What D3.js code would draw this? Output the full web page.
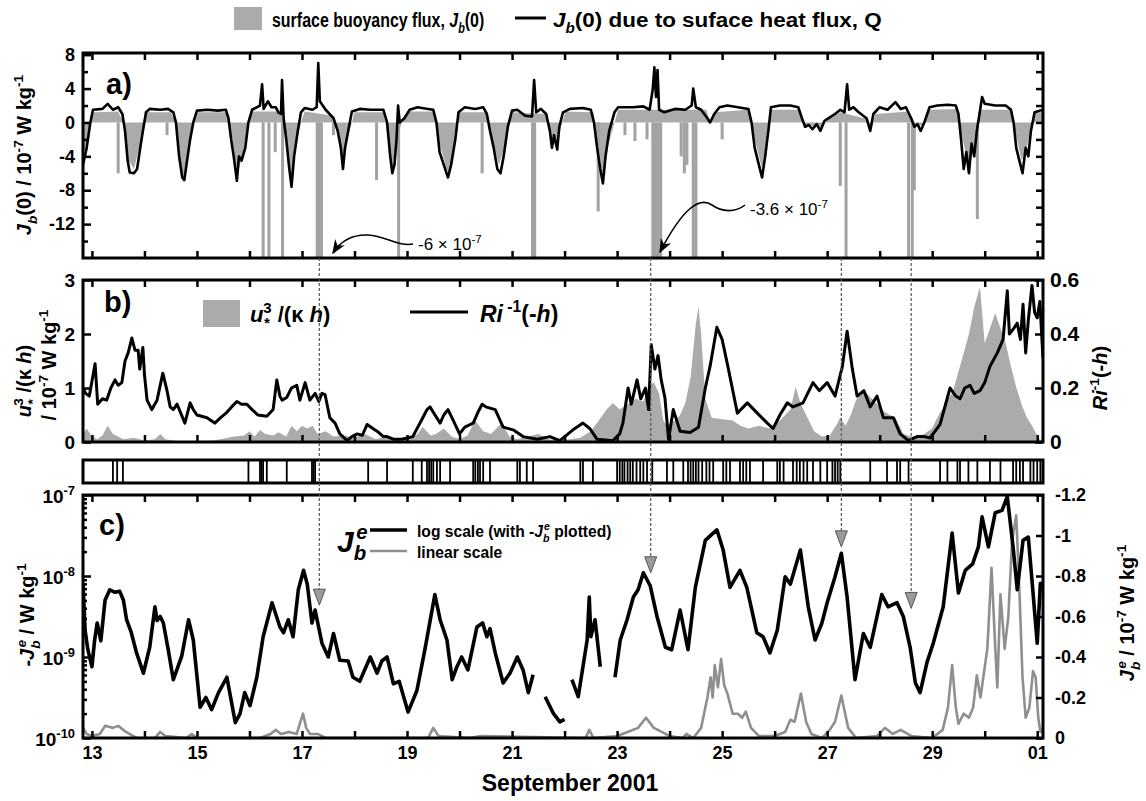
<html>
<head>
<meta charset="utf-8">
<title>Surface buoyancy flux, shear and entrainment flux</title>
<style>
  body { margin: 0; background: #fff; }
</style>
</head>
<body>
<script src="https://cdnjs.cloudflare.com/ajax/libs/d3/7.8.5/d3.min.js"></script>
<script>
// ---- data (day of September 2001; 31 = 01 Oct) ----
// a) Jb(0) due to surface heat flux Q, 1e-7 W/kg
var heatFluxJb = [[12.83,-5],[12.9,-3],[12.97,0],[13.02,1.5],[13.2,1.6],[13.3,2.2],[13.4,1.5],[13.5,1.8],[13.58,1.0],[13.63,-1],[13.68,-4.5],[13.72,-5.9],[13.8,-6],[13.86,-5.5],[13.92,-3],[13.97,-1],[14.03,1.2],[14.1,1.6],[14.3,1.5],[14.45,1.6],[14.55,1.2],[14.6,0],[14.66,-4],[14.72,-6.5],[14.76,-6.8],[14.8,-5],[14.87,-2],[14.93,0],[15.0,1.4],[15.2,1.5],[15.4,1.4],[15.55,1.5],[15.6,0.5],[15.65,-2],[15.7,-4],[15.76,-6.9],[15.8,-4],[15.85,-4.5],[15.92,-3],[15.98,0],[16.05,1.5],[16.2,2.0],[16.24,4.5],[16.27,1.6],[16.35,2.5],[16.42,1.8],[16.5,1.8],[16.55,1.2],[16.6,1.0],[16.62,5],[16.65,0.5],[16.7,-2],[16.75,-5],[16.8,-7.6],[16.85,-4],[16.92,-1],[16.98,1.2],[17.05,1.7],[17.2,1.5],[17.28,1.8],[17.31,7],[17.34,2.5],[17.45,1.5],[17.6,0.5],[17.68,-1],[17.74,-3],[17.78,-5.5],[17.82,-3],[17.88,-1],[17.95,1.3],[18.1,1.6],[18.3,1.5],[18.55,1.5],[18.62,0],[18.68,-4],[18.72,-6],[18.76,-5],[18.8,-2],[18.83,2],[18.86,0],[18.95,0.5],[19.05,1.5],[19.2,1.8],[19.4,1.6],[19.5,1.5],[19.56,0],[19.62,-3.5],[19.7,-5],[19.78,-6.5],[19.84,-5],[19.92,-2],[19.98,1.2],[20.1,1.8],[20.3,1.6],[20.45,1.8],[20.52,1.0],[20.58,-1],[20.65,-3],[20.72,-5.5],[20.78,-6],[20.84,-4],[20.92,-0.5],[21.0,1.4],[21.1,1.5],[21.25,0.8],[21.38,0.7],[21.42,5],[21.46,1.2],[21.55,1.6],[21.65,1.0],[21.72,-1],[21.76,-3],[21.8,-1.5],[21.86,-3.2],[21.9,-0.5],[21.97,1.2],[22.1,1.6],[22.35,1.7],[22.5,1.5],[22.56,0],[22.62,-3],[22.68,-5.5],[22.73,-7.2],[22.78,-4],[22.85,-1],[22.95,1.2],[23.02,1.8],[23.3,1.8],[23.5,1.9],[23.62,1.5],[23.68,4],[23.71,6.5],[23.74,3],[23.77,6.2],[23.8,1.5],[23.9,1.2],[24.1,1.6],[24.3,1.5],[24.42,2],[24.45,4],[24.5,1.8],[24.6,1.5],[24.72,0.5],[24.77,0],[24.85,1.0],[24.95,1.8],[25.1,2.0],[25.3,1.8],[25.5,1.6],[25.56,0],[25.62,-3],[25.7,-5],[25.76,-6.5],[25.82,-4],[25.88,-1],[25.93,1.8],[26.1,2.0],[26.3,2.0],[26.45,1.8],[26.52,0.5],[26.58,-0.5],[26.65,-0.3],[26.72,-0.8],[26.8,-0.2],[26.87,-1.0],[26.95,0.2],[27.05,0.6],[27.15,1.0],[27.25,1.5],[27.33,1.2],[27.38,4.5],[27.42,1.5],[27.5,1.8],[27.6,1.2],[27.75,0.5],[27.82,-1],[27.88,1],[28.0,1.8],[28.15,1.5],[28.3,2.4],[28.4,1.6],[28.5,1.8],[28.6,0.5],[28.66,-0.5],[28.72,-0.2],[28.78,-1],[28.85,0],[28.95,1.8],[29.1,2.0],[29.3,2.1],[29.45,2.0],[29.5,1],[29.55,-2],[29.6,-5.5],[29.65,-3.5],[29.7,-6],[29.75,-2.5],[29.8,-4],[29.85,-1],[29.9,1],[29.95,3],[30.0,2.2],[30.2,2.0],[30.4,2.0],[30.5,1.5],[30.55,0],[30.6,-3],[30.66,-4.5],[30.72,-6],[30.78,-3],[30.83,-4],[30.88,-1],[30.95,1.2],[31.11,1.5]];

// a) surface buoyancy flux Jb(0), 1e-7 W/kg
var surfaceJb = [[12.83,-4],[12.95,-1],[13.02,1.2],[13.5,1.3],[13.6,0],[13.7,-4.5],[13.8,-5.5],[13.9,-3],[14.0,0],[14.05,1.2],[14.5,1.2],[14.6,0],[14.7,-5.5],[14.76,-6.5],[14.85,-3],[14.95,0],[15.02,1.2],[15.55,1.2],[15.62,0],[15.72,-4],[15.78,-6],[15.88,-3.5],[15.98,0],[16.05,1.3],[16.6,1.3],[16.68,-1],[16.76,-5],[16.82,-6.5],[16.9,-2],[16.98,0],[17.05,1.3],[17.6,0.8],[17.7,-1.5],[17.78,-5],[17.85,-2],[17.95,0],[18.0,1.2],[18.55,1.2],[18.65,-2],[18.72,-5.5],[18.8,-2],[18.9,0],[19.05,1.3],[19.52,1.3],[19.6,-2],[19.75,-5.5],[19.82,-6],[19.92,-2],[20.0,1.2],[20.5,1.2],[20.6,-1.5],[20.75,-5],[20.85,-3],[20.95,0],[21.02,1.2],[21.65,1.0],[21.75,-2],[21.86,-2.5],[21.95,0],[22.02,1.3],[22.55,1.2],[22.62,-2],[22.72,-6],[22.82,-3],[22.95,0],[23.02,1.5],[24.7,1.5],[24.77,0],[24.85,1.2],[25.5,1.5],[25.58,-1],[25.7,-4],[25.76,-5.5],[25.85,-2],[25.92,1.5],[26.45,1.5],[26.55,-0.3],[26.9,-0.5],[27.0,0.3],[27.25,1.2],[27.75,0.4],[27.85,-0.5],[27.92,1.0],[28.55,1.3],[28.65,-0.5],[28.85,-0.3],[28.95,1.5],[29.48,1.6],[29.55,-1],[29.65,-4],[29.72,-5],[29.82,-2],[29.9,1.5],[30.5,1.5],[30.58,-1],[30.7,-4.5],[30.8,-3],[30.9,0],[30.97,1.2],[31.11,1.2]];

// a) rain events in Jb(0) (clipped at the panel floor)
var rainSpikes = [[13.5,-6],[14.43,-1.5],[16.26,-16],[16.37,-16],[16.49,-3.5],[16.63,-16],[17.29,-16],[17.33,-16],[17.37,-16],[17.6,-1.5],[18.42,-6.8],[18.84,-16],[20.43,-6],[21.39,-16],[21.43,-16],[22.64,-10.5],[23.15,-1.5],[23.34,-2.2],[23.57,-2],[23.68,-16],[23.73,-16],[23.78,-16],[23.83,-16],[24.22,-4],[24.28,-6],[24.33,-5],[24.45,-16],[24.5,-16],[25.0,-2],[27.25,-7.5],[27.36,-16],[28.55,-16],[28.62,-16],[28.66,-8],[29.86,-11.4]];

// b) u*^3/(kappa h), 1e-7 W/kg
var shearProd = [[12.83,0.15],[12.9,0.25],[13.0,0.1],[13.1,0.05],[13.2,0.12],[13.3,0.3],[13.4,0.15],[13.5,0.1],[13.6,0.05],[13.8,0.08],[14.0,0.03],[14.2,0.05],[14.3,0.15],[14.4,0.05],[14.6,0.02],[15.0,0.02],[15.3,0.03],[15.5,0.06],[15.7,0.1],[15.9,0.12],[16.0,0.2],[16.1,0.1],[16.2,0.22],[16.3,0.15],[16.45,0.12],[16.55,0.18],[16.7,0.1],[16.8,0.3],[16.9,0.2],[17.0,0.3],[17.1,0.25],[17.2,0.3],[17.3,0.15],[17.45,0.2],[17.6,0.1],[17.8,0.12],[18.0,0.08],[18.2,0.15],[18.4,0.05],[18.6,0.1],[18.8,0.05],[19.0,0.05],[19.2,0.15],[19.3,0.28],[19.45,0.12],[19.55,0.15],[19.7,0.25],[19.85,0.1],[20.0,0.05],[20.15,0.12],[20.3,0.4],[20.45,0.2],[20.6,0.15],[20.8,0.35],[20.95,0.1],[21.1,0.05],[21.3,0.1],[21.5,0.15],[21.7,0.05],[21.9,0.03],[22.1,0.05],[22.3,0.08],[22.5,0.2],[22.65,0.4],[22.8,0.6],[22.92,0.72],[23.05,0.6],[23.2,0.7],[23.35,0.8],[23.5,0.75],[23.6,1.05],[23.7,1.1],[23.8,0.9],[23.88,0.4],[23.95,0.3],[24.1,0.4],[24.2,0.5],[24.3,0.72],[24.4,1.2],[24.5,2.2],[24.55,2.5],[24.6,2.0],[24.68,0.8],[24.8,0.45],[25.0,0.42],[25.2,0.4],[25.35,0.3],[25.5,0.25],[25.7,0.3],[25.9,0.25],[26.1,0.4],[26.3,0.6],[26.4,1.02],[26.5,0.7],[26.6,0.5],[26.75,0.2],[26.9,0.1],[27.05,0.12],[27.2,0.35],[27.25,0.46],[27.35,0.3],[27.45,0.5],[27.55,0.78],[27.7,0.96],[27.85,0.8],[27.95,0.7],[28.1,0.55],[28.3,0.45],[28.45,0.15],[28.6,0.1],[28.8,0.12],[29.0,0.25],[29.1,0.46],[29.25,0.7],[29.4,0.96],[29.5,1.3],[29.6,1.65],[29.7,2.0],[29.8,2.5],[29.91,2.87],[30.0,1.83],[30.1,2.1],[30.2,2.39],[30.3,2.1],[30.4,1.83],[30.5,1.4],[30.6,1.02],[30.7,0.7],[30.8,0.46],[30.9,0.3],[30.98,0.15],[31.05,0.05],[31.11,0.02]];

// b) Ri^-1 at -h (right axis)
var invRi = [[12.83,0.20],[12.88,0.18],[12.95,0.17],[13.06,0.29],[13.11,0.14],[13.2,0.16],[13.28,0.155],[13.36,0.2],[13.44,0.23],[13.5,0.21],[13.57,0.22],[13.63,0.3],[13.69,0.33],[13.76,0.385],[13.82,0.34],[13.88,0.34],[13.91,0.27],[13.97,0.35],[14.0,0.25],[14.05,0.155],[14.14,0.12],[14.24,0.155],[14.35,0.255],[14.43,0.19],[14.49,0.13],[14.55,0.12],[14.62,0.14],[14.77,0.07],[14.87,0.145],[14.93,0.12],[15.0,0.10],[15.19,0.09],[15.34,0.07],[15.45,0.09],[15.57,0.11],[15.66,0.13],[15.76,0.15],[15.85,0.14],[15.95,0.14],[16.05,0.12],[16.16,0.10],[16.33,0.095],[16.45,0.12],[16.52,0.23],[16.58,0.17],[16.62,0.155],[16.71,0.165],[16.8,0.2],[16.9,0.21],[16.96,0.155],[17.06,0.22],[17.15,0.155],[17.25,0.18],[17.32,0.15],[17.38,0.18],[17.44,0.175],[17.53,0.09],[17.63,0.07],[17.72,0.03],[17.86,0.005],[17.95,0.02],[18.05,0.03],[18.15,0.025],[18.24,0.065],[18.35,0.05],[18.43,0.04],[18.55,0.02],[18.62,0.02],[18.75,0.01],[18.9,0.01],[19.11,0.02],[19.3,0.09],[19.38,0.12],[19.44,0.13],[19.5,0.11],[19.63,0.07],[19.7,0.1],[19.78,0.12],[19.88,0.08],[20.0,0.03],[20.1,0.055],[20.26,0.07],[20.35,0.11],[20.43,0.14],[20.5,0.13],[20.68,0.12],[20.83,0.055],[21.02,0.045],[21.21,0.02],[21.48,0.01],[21.72,0.02],[21.91,0.005],[22.16,0.045],[22.35,0.07],[22.48,0.05],[22.62,0.01],[22.92,0.005],[23.05,0.03],[23.11,0.07],[23.21,0.20],[23.27,0.14],[23.38,0.23],[23.45,0.16],[23.54,0.20],[23.6,0.12],[23.65,0.36],[23.72,0.27],[23.78,0.32],[23.84,0.23],[23.91,0.165],[23.98,0.01],[24.07,0.12],[24.2,0.04],[24.39,0.035],[24.55,0.055],[24.68,0.20],[24.77,0.28],[24.9,0.425],[25.0,0.38],[25.12,0.27],[25.29,0.107],[25.48,0.145],[25.67,0.107],[25.86,0.07],[25.97,0.05],[26.1,0.1],[26.24,0.145],[26.35,0.13],[26.54,0.145],[26.73,0.22],[26.85,0.19],[27.0,0.22],[27.15,0.17],[27.29,0.28],[27.38,0.41],[27.48,0.27],[27.57,0.17],[27.7,0.19],[27.82,0.13],[27.95,0.17],[28.07,0.09],[28.26,0.09],[28.39,0.03],[28.55,0.005],[28.71,0.02],[28.85,0.02],[28.96,0.015],[29.15,0.065],[29.34,0.20],[29.45,0.17],[29.53,0.16],[29.62,0.2],[29.72,0.21],[29.8,0.18],[29.91,0.19],[30.0,0.22],[30.1,0.28],[30.24,0.33],[30.35,0.38],[30.43,0.56],[30.47,0.40],[30.55,0.42],[30.62,0.44],[30.68,0.38],[30.73,0.51],[30.78,0.33],[30.83,0.45],[30.9,0.58],[30.95,0.48],[31.0,0.46],[31.05,0.52],[31.11,0.31]];

// event strip between b) and c)
var stripeDays = [13.4,13.48,13.59,15.98,16.2,16.23,16.26,16.33,16.71,17.19,17.22,17.25,18.26,18.62,19.11,19.28,19.38,19.42,19.46,19.5,19.57,19.63,19.82,20.26,20.3,20.35,20.39,20.45,20.58,21.1,21.15,21.28,21.4,22.3,22.35,22.54,23.0,23.05,23.1,23.14,23.2,23.25,23.3,23.37,23.44,23.5,23.57,23.67,23.95,24.07,24.26,24.35,24.4,24.45,24.5,24.55,24.62,24.7,24.76,24.83,25.02,25.08,25.15,25.34,25.4,25.46,25.53,25.78,26.05,26.1,26.17,26.35,26.42,26.48,26.55,26.62,26.73,26.87,27.0,27.1,27.15,27.2,27.25,27.82,28.14,28.33,28.39,28.55,29.15,29.29,29.48,29.53,29.69,29.86,30.1,30.3,30.54,30.6,30.67,30.73,30.87,30.93,31.0,31.06];

// c) log10(-Jb^e) in W/kg (null = gap)
var logNegJbe = [[12.83,-8.09],[12.87,-8.67],[12.92,-8.9],[13.0,-9.12],[13.05,-8.8],[13.1,-8.58],[13.17,-8.8],[13.25,-8.3],[13.34,-8.17],[13.43,-8.2],[13.53,-8.19],[13.6,-8.3],[13.66,-8.54],[13.75,-8.7],[13.85,-8.95],[13.98,-9.2],[14.1,-8.88],[14.2,-8.38],[14.24,-8.55],[14.3,-8.5],[14.36,-8.58],[14.45,-8.9],[14.55,-9.28],[14.71,-8.99],[14.84,-8.54],[14.93,-8.79],[15.06,-9.62],[15.17,-9.5],[15.28,-9.65],[15.41,-9.44],[15.57,-9.25],[15.73,-9.81],[15.82,-9.7],[15.91,-9.44],[16.01,-9.6],[16.14,-9.25],[16.26,-8.75],[16.43,-8.33],[16.58,-8.63],[16.65,-8.7],[16.74,-8.54],[16.83,-8.75],[16.93,-8.17],[17.03,-7.93],[17.1,-8.1],[17.19,-8.58],[17.25,-8.42],[17.38,-8.83],[17.5,-9.0],[17.6,-8.71],[17.72,-9.04],[17.88,-9.05],[17.97,-9.25],[18.1,-9.3],[18.3,-9.0],[18.43,-9.2],[18.52,-9.05],[18.62,-9.0],[18.74,-9.33],[18.85,-9.3],[19.02,-9.68],[19.19,-9.41],[19.34,-8.91],[19.53,-8.23],[19.63,-8.54],[19.76,-8.79],[19.86,-9.28],[19.95,-9.12],[20.04,-9.0],[20.16,-9.16],[20.33,-8.63],[20.44,-8.58],[20.52,-8.75],[20.58,-8.65],[20.68,-8.95],[20.83,-9.32],[20.96,-9.2],[21.1,-9.0],[21.21,-9.16],[21.31,-9.44],[21.4,-9.22],[21.45,null],[21.63,-9.49],[21.79,-9.7],[21.91,-9.8],[22.0,-9.77],[22.05,null],[22.14,-9.28],[22.26,-9.49],[22.43,-8.79],[22.47,-8.26],[22.5,-8.75],[22.58,-8.54],[22.68,-9.12],[22.75,null],[22.96,-9.25],[23.06,-8.79],[23.19,-8.54],[23.31,-8.26],[23.4,-8.17],[23.5,-7.96],[23.63,-8.12],[23.76,-8.5],[23.92,-8.88],[24.04,-8.91],[24.2,-8.42],[24.35,-8.91],[24.49,-8.14],[24.68,-7.56],[24.83,-7.47],[24.9,-7.43],[25.02,-7.68],[25.15,-8.14],[25.34,-7.93],[25.47,-8.14],[25.66,-8.7],[25.78,-8.75],[25.91,-8.95],[26.05,-8.67],[26.2,-8.01],[26.3,-8.1],[26.49,-7.68],[26.64,-8.38],[26.77,-8.79],[26.9,-8.58],[27.0,-8.33],[27.15,-8.01],[27.27,-7.72],[27.38,-8.26],[27.53,-9.28],[27.69,-8.71],[27.82,-8.88],[28.04,-8.23],[28.16,-8.38],[28.33,-8.33],[28.45,-8.5],[28.58,-8.88],[28.68,-9.32],[28.77,-9.44],[28.9,-9.07],[29.02,-8.83],[29.21,-8.38],[29.38,-7.47],[29.5,-8.21],[29.63,-7.93],[29.77,-7.85],[29.88,-7.64],[29.95,-7.27],[30.07,-7.64],[30.2,-7.22],[30.33,-7.19],[30.43,-7.02],[30.54,-7.64],[30.62,-8.17],[30.73,-7.56],[30.83,-7.52],[30.9,-8.05],[31.0,-8.83],[31.06,-8.09],[31.11,-8.17]];

// c) Jb^e on linear scale, 1e-7 W/kg (right axis)
var linJbe = [[12.83,-0.05],[12.9,-0.02],[13.0,-0.01],[13.15,-0.02],[13.25,-0.06],[13.4,-0.05],[13.5,-0.06],[13.65,-0.03],[13.85,0],[14.2,0],[14.3,-0.03],[14.4,-0.01],[14.8,0],[14.9,-0.02],[15.0,0],[16.2,0],[16.4,-0.02],[16.5,-0.04],[16.6,-0.02],[16.75,-0.03],[16.9,-0.02],[16.97,-0.08],[17.02,-0.12],[17.08,-0.05],[17.15,-0.02],[17.3,-0.02],[17.45,0],[19.4,0],[19.5,-0.05],[19.6,-0.01],[20.2,0],[20.4,-0.01],[22.4,0],[22.47,-0.04],[22.55,0],[23.0,-0.01],[23.2,-0.03],[23.4,-0.05],[23.55,-0.1],[23.7,-0.05],[23.85,-0.03],[24.0,-0.01],[24.25,0],[24.32,-0.02],[24.45,0],[24.6,-0.05],[24.72,-0.2],[24.78,-0.3],[24.82,-0.2],[24.86,-0.36],[24.92,-0.25],[24.98,-0.39],[25.04,-0.26],[25.1,-0.22],[25.2,-0.12],[25.3,-0.12],[25.38,-0.1],[25.45,-0.13],[25.55,-0.05],[25.7,-0.01],[26.0,-0.01],[26.2,-0.03],[26.3,-0.09],[26.38,-0.08],[26.5,-0.22],[26.6,-0.08],[26.7,-0.02],[26.9,0],[27.05,-0.04],[27.15,-0.08],[27.27,-0.21],[27.4,-0.05],[27.55,0],[27.95,-0.01],[28.1,-0.05],[28.25,-0.02],[28.4,-0.04],[28.6,-0.01],[29.0,0],[29.2,-0.04],[29.3,-0.15],[29.38,-0.36],[29.45,-0.15],[29.5,-0.07],[29.6,-0.12],[29.7,-0.1],[29.78,-0.15],[29.85,-0.31],[29.92,-0.2],[30.0,-0.35],[30.05,-0.44],[30.13,-0.84],[30.2,-0.45],[30.24,-0.25],[30.3,-0.71],[30.38,-0.44],[30.45,-0.6],[30.52,-0.97],[30.6,-1.1],[30.66,-0.73],[30.72,-0.3],[30.78,-0.1],[30.85,-0.15],[30.92,-0.33],[30.97,-0.3],[31.02,-0.1],[31.06,-0.03],[31.11,-0.05]];

// dashed markers linking a) to c): day, log10(-Jb^e) at the triangle tip
var markerDays = [17.33, 23.64, 27.27, 28.6];
var markerTips = [-8.36, -7.96, -7.64, -8.4];

var days = d3.range(13, 32);
var dayLabels = [13, 15, 17, 19, 21, 23, 25, 27, 29, 31];
var ticksA = [-12, -8, -4, 0, 4, 8];
var ticksB = [0, 1, 2, 3];
var ticksBr = [0, 0.2, 0.4, 0.6];
var ticksCr = [0, -0.2, -0.4, -0.6, -0.8, -1, -1.2];
var decades = [-10, -9, -8, -7];

// ---- scales ----
var x = d3.scaleLinear().domain([12.83, 31.11]).range([83, 1043]);
var yA = d3.scaleLinear().domain([-16, 8.2]).range([258, 53]);
var yB = d3.scaleLinear().domain([0, 3]).range([442, 280]);
var yBr = d3.scaleLinear().domain([0, 0.6]).range([442, 280]);
var yC = d3.scaleLinear().domain([-10, -7]).range([738, 495]);   // log10 axis
var yCr = d3.scaleLinear().domain([0, -1.2]).range([738, 495]);
var stripTop = 460, stripBot = 483;

var gray = "#ababab";
var plain = function (d) { return String(d); };

var svg = d3.select("body").append("svg")
    .attr("width", 1146).attr("height", 801)
    .style("font-family", "'Liberation Sans', Arial, Helvetica, sans-serif")
    .style("font-weight", "bold");

var defs = svg.append("defs");
function clip(id, y0, y1) {
    defs.append("clipPath").attr("id", id).append("rect")
        .attr("x", x.range()[0]).attr("y", y0)
        .attr("width", x.range()[1] - x.range()[0]).attr("height", y1 - y0);
}
clip("clipA", 53, 258);
clip("clipB", 280, 442);
clip("clipC", 495, 738);
defs.append("marker").attr("id", "head").attr("viewBox", "0 0 10 10")
    .attr("refX", 9).attr("refY", 5).attr("markerWidth", 9).attr("markerHeight", 9)
    .attr("orient", "auto")
    .append("path").attr("d", "M0,1 L10,5 L0,9 L3,5 Z").attr("fill", "#000");

// rich text: parts = [text, "sub"|"sup"|"", italic, dx]
function rich(sel, parts) {
    var size = +sel.attr("font-size");
    var shift = 0;
    parts.forEach(function (p) {
        var mode = p[1] || "";
        var ts = sel.append("tspan").text(p[0]);
        var target = mode === "sup" ? -0.42 * size : mode === "sub" ? 0.28 * size : 0;
        if (target !== shift) { ts.attr("dy", target - shift); shift = target; }
        if (mode) ts.attr("font-size", size * 0.68);
        if (p[2]) ts.attr("font-style", "italic");
        if (p[3]) ts.attr("dx", p[3]);
    });
    return sel;
}

function styleAxis(g, size) {
    g.select(".domain").remove();
    g.selectAll(".tick line").attr("stroke", "#000").attr("stroke-width", 2.5);
    g.attr("font-family", null).attr("font-size", size || 18);
    g.selectAll("text").attr("fill", "#000");
    return g;
}

function frame(y0, y1) {
    svg.append("rect").attr("x", x.range()[0]).attr("y", y0)
        .attr("width", x.range()[1] - x.range()[0]).attr("height", y1 - y0)
        .attr("fill", "none").attr("stroke", "#000").attr("stroke-width", 3);
}

function dayAxes(y0, y1, labels) {
    styleAxis(svg.append("g").attr("transform", "translate(0," + y0 + ")")
        .call(d3.axisTop(x).tickValues(days).tickSize(-7).tickFormat("")));
    styleAxis(svg.append("g").attr("transform", "translate(0," + y1 + ")")
        .call(d3.axisBottom(x).tickValues(days).tickSize(-7).tickPadding(8)
            .tickFormat(function (d) {
                if (!labels || dayLabels.indexOf(d) < 0) return "";
                return d === 31 ? "01" : String(d);
            })));
}

var line = d3.line().x(function (d) { return x(d[0]); });

// ---- top legend ----
svg.append("rect").attr("x", 234).attr("y", 7).attr("width", 28).attr("height", 23).attr("fill", gray);
rich(svg.append("text").attr("font-size", 21).attr("transform", "translate(272,27) scale(0.76,1)"),
    [["surface buoyancy flux, "], ["J", "", 1], ["b", "sub", 1], ["(0)"]]);
svg.append("line").attr("x1", 515).attr("x2", 546).attr("y1", 18).attr("y2", 18)
    .attr("stroke", "#000").attr("stroke-width", 3);
rich(svg.append("text").attr("font-size", 21).attr("transform", "translate(553,27) scale(1.07,1)"),
    [["J", "", 1], ["b", "sub", 1], ["(0) due to suface heat flux, Q"]]);

// ---- panel a ----
var gA = svg.append("g").attr("clip-path", "url(#clipA)");
gA.append("path").datum(surfaceJb)
    .attr("d", d3.area().x(function (d) { return x(d[0]); }).y0(yA(0)).y1(function (d) { return yA(d[1]); }))
    .attr("fill", gray);
gA.selectAll("rect.spike").data(rainSpikes).join("rect").attr("class", "spike")
    .attr("x", function (d) { return x(d[0]) - 1.5; }).attr("width", 3)
    .attr("y", yA(0)).attr("height", function (d) { return yA(d[1]) - yA(0); })
    .attr("fill", "#a2a2a2");
gA.append("path").datum(heatFluxJb)
    .attr("d", line.y(function (d) { return yA(d[1]); }))
    .attr("fill", "none").attr("stroke", "#000").attr("stroke-width", 2.6).attr("stroke-linejoin", "round");

frame(53, 258);
dayAxes(53, 258, false);
styleAxis(svg.append("g").attr("transform", "translate(83,0)")
    .call(d3.axisLeft(yA).tickValues(ticksA).tickSize(-8).tickPadding(8).tickFormat(plain)));
styleAxis(svg.append("g").attr("transform", "translate(83,0)")
    .call(d3.axisLeft(yA).tickValues([-14, -10, -6, -2, 2, 6]).tickSize(-5).tickFormat("")));
styleAxis(svg.append("g").attr("transform", "translate(1043,0)")
    .call(d3.axisRight(yA).tickValues(d3.range(-14, 8, 2)).tickSize(-7).tickFormat("")));

svg.append("text").attr("x", 106).attr("y", 94).attr("font-size", 29).text("a)");
rich(svg.append("text").attr("font-size", 20).attr("text-anchor", "middle")
    .attr("transform", "translate(31,155) rotate(-90)"),
    [["J", "", 1], ["b", "sub", 1], ["(0)  / 10"], ["-7", "sup"], [" W kg"], ["-1", "sup"]]);

// annotations
svg.append("path").attr("d", "M413,244 C398,247 385,235 366,235 C350,235 340,242 333,253")
    .attr("fill", "none").attr("stroke", "#000").attr("stroke-width", 1.6).attr("marker-end", "url(#head)");
rich(svg.append("text").attr("x", 418).attr("y", 250).attr("font-size", 17).attr("font-weight", "normal"),
    [["-6 \u00d7 10"], ["-7", "sup"]]);
svg.append("path").attr("d", "M745,205 C735,213 722,212 712,205 C700,197 684,206 660,252")
    .attr("fill", "none").attr("stroke", "#000").attr("stroke-width", 1.6).attr("marker-end", "url(#head)");
rich(svg.append("text").attr("x", 750).attr("y", 215).attr("font-size", 17).attr("font-weight", "normal"),
    [["-3.6 \u00d7 10"], ["-7", "sup"]]);

// ---- panel b ----
var gB = svg.append("g").attr("clip-path", "url(#clipB)");
gB.append("path").datum(shearProd)
    .attr("d", d3.area().x(function (d) { return x(d[0]); }).y0(yB(0)).y1(function (d) { return yB(d[1]); }))
    .attr("fill", gray);
gB.append("path").datum(invRi)
    .attr("d", d3.line().x(function (d) { return x(d[0]); }).y(function (d) { return yBr(d[1]); }))
    .attr("fill", "none").attr("stroke", "#000").attr("stroke-width", 3).attr("stroke-linejoin", "round");

frame(280, 442);
dayAxes(280, 442, false);
styleAxis(svg.append("g").attr("transform", "translate(83,0)")
    .call(d3.axisLeft(yB).tickValues(ticksB).tickSize(-8).tickPadding(8).tickFormat(plain)), 19);
styleAxis(svg.append("g").attr("transform", "translate(1043,0)")
    .call(d3.axisRight(yBr).tickValues(ticksBr).tickSize(-8).tickPadding(7)
        .tickFormat(function (d) { return d === 0 ? "0" : d.toFixed(1); })), 21);

svg.append("text").attr("x", 104).attr("y", 312).attr("font-size", 29).text("b)");
svg.append("rect").attr("x", 203).attr("y", 300).attr("width", 37).attr("height", 27).attr("fill", gray);
rich(svg.append("text").attr("x", 250).attr("y", 322).attr("font-size", 22),
    [["u", "", 1], ["*", "sub", 1], ["3", "sup", 0, -6], [" /(\u03ba "], ["h", "", 1], [")"]]);
svg.append("line").attr("x1", 410).attr("x2", 468).attr("y1", 312).attr("y2", 312)
    .attr("stroke", "#000").attr("stroke-width", 3);
rich(svg.append("text").attr("x", 480).attr("y", 322).attr("font-size", 23),
    [["Ri", "", 1], [" -1", "sup"], ["(-"], ["h", "", 1], [")"]]);

rich(svg.append("text").attr("font-size", 20).attr("text-anchor", "middle")
    .attr("transform", "translate(31,381) rotate(-90)"),
    [["u", "", 1], ["*", "sub", 1], ["3", "sup", 0, -6], [" /(\u03ba "], ["h", "", 1], [")"]]);
rich(svg.append("text").attr("font-size", 20).attr("text-anchor", "middle")
    .attr("transform", "translate(56,365) rotate(-90)"),
    [["/ 10"], ["-7", "sup"], [" W kg"], ["-1", "sup"]]);
rich(svg.append("text").attr("font-size", 20).attr("text-anchor", "middle")
    .attr("transform", "translate(1107,378) rotate(-90)"),
    [["Ri", "", 1], ["-1", "sup"], ["(-"], ["h", "", 1], [")"]]);

// ---- event strip ----
svg.append("g").selectAll("line").data(stripeDays).join("line")
    .attr("x1", function (d) { return x(d); }).attr("x2", function (d) { return x(d); })
    .attr("y1", stripTop).attr("y2", stripBot)
    .attr("stroke", "#000").attr("stroke-width", 1.8);
frame(stripTop, stripBot);

// ---- panel c ----
var gC = svg.append("g").attr("clip-path", "url(#clipC)");
gC.append("path").datum(linJbe)
    .attr("d", d3.line().x(function (d) { return x(d[0]); }).y(function (d) { return yCr(d[1]); }))
    .attr("fill", "none").attr("stroke", "#8f8f8f").attr("stroke-width", 2.6).attr("stroke-linejoin", "round");
gC.append("path").datum(logNegJbe)
    .attr("d", d3.line().defined(function (d) { return d[1] !== null; })
        .x(function (d) { return x(d[0]); }).y(function (d) { return yC(d[1]); }))
    .attr("fill", "none").attr("stroke", "#000").attr("stroke-width", 3.6).attr("stroke-linejoin", "round");

frame(495, 738);
dayAxes(495, 738, true);
var minorLog = [];
[-10, -9, -8].forEach(function (e) {
    d3.range(2, 10).forEach(function (k) { minorLog.push(e + Math.log10(k)); });
});
styleAxis(svg.append("g").attr("transform", "translate(83,0)")
    .call(d3.axisLeft(yC).tickValues(decades).tickSize(-8).tickFormat("")));
styleAxis(svg.append("g").attr("transform", "translate(83,0)")
    .call(d3.axisLeft(yC).tickValues(minorLog).tickSize(-4).tickFormat("")));
svg.append("g").selectAll("text").data(decades).join("text")
    .attr("x", 75).attr("y", function (d) { return yC(d) + 8; })
    .attr("text-anchor", "end").attr("font-size", 19)
    .each(function (d) { rich(d3.select(this), [["10"], [String(d), "sup"]]); });
styleAxis(svg.append("g").attr("transform", "translate(1043,0)")
    .call(d3.axisRight(yCr).tickValues(ticksCr).tickSize(-7).tickPadding(12).tickFormat(plain)), 18);

svg.append("text").attr("x", 99).attr("y", 535).attr("font-size", 29).text("c)");
rich(svg.append("text").attr("x", 337).attr("y", 552).attr("font-size", 30),
    [["J", "", 1], ["b", "sub", 1], ["e", "sup", 1, -10]]);
svg.append("line").attr("x1", 370).attr("x2", 407).attr("y1", 530).attr("y2", 530)
    .attr("stroke", "#000").attr("stroke-width", 3.5);
svg.append("line").attr("x1", 370).attr("x2", 407).attr("y1", 551).attr("y2", 551)
    .attr("stroke", "#8f8f8f").attr("stroke-width", 2.6);
rich(svg.append("text").attr("font-size", 17).attr("transform", "translate(417,537) scale(0.92,1)"),
    [["log scale (with -"], ["J", "", 1], ["b", "sub", 1], ["e", "sup", 1, -6], [" plotted)"]]);
svg.append("text").attr("font-size", 17).attr("transform", "translate(417,558) scale(0.92,1)")
    .text("linear scale");

rich(svg.append("text").attr("font-size", 20).attr("text-anchor", "middle")
    .attr("transform", "translate(34,615) rotate(-90)"),
    [["-J", "", 1], ["b", "sub", 1], ["e", "sup", 1, -7], [" / W kg"], ["-1", "sup"]]);
rich(svg.append("text").attr("font-size", 20).attr("text-anchor", "middle")
    .attr("transform", "translate(1134,613) rotate(-90)"),
    [["J", "", 1], ["b", "sub", 1], ["e", "sup", 1, -7], [" / 10"], ["-7", "sup"], [" W kg"], ["-1", "sup"]]);

svg.append("text").attr("x", 570).attr("y", 791).attr("text-anchor", "middle")
    .attr("font-size", 23).text("September 2001");

// ---- dashed markers from a) down to c) ----
var gM = svg.append("g");
markerDays.forEach(function (d, i) {
    var tipY = yC(markerTips[i]);
    gM.append("line").attr("x1", x(d)).attr("x2", x(d)).attr("y1", yA(-16)).attr("y2", tipY - 14)
        .attr("stroke", "#555").attr("stroke-width", 1.2).attr("stroke-dasharray", "3,2");
    gM.append("path")
        .attr("d", "M" + (x(d) - 6) + "," + (tipY - 16) + " L" + (x(d) + 6) + "," + (tipY - 16) + " L" + x(d) + "," + tipY + " Z")
        .attr("fill", "#9a9a9a").attr("stroke", "#555").attr("stroke-width", 1);
});
</script>
</body>
</html>
